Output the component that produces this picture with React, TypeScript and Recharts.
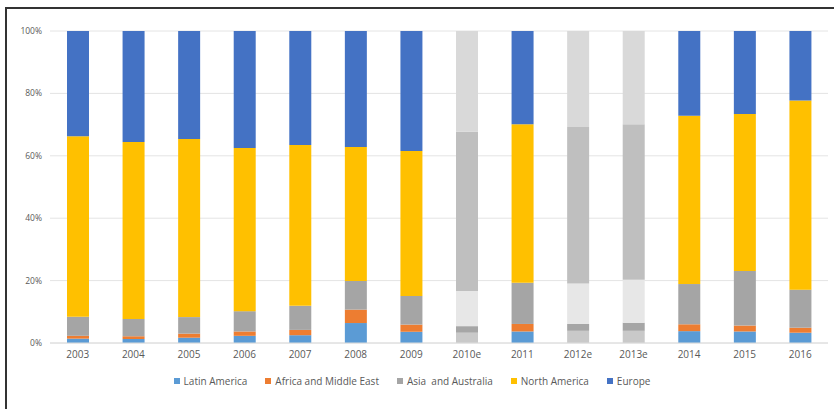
import { Bar, BarChart, CartesianGrid, Cell, Legend, XAxis, YAxis } from "recharts";

const years = ["2003", "2004", "2005", "2006", "2007", "2008", "2009", "2010e", "2011", "2012e", "2013e", "2014", "2015", "2016"];
const estimated = ["2010e", "2012e", "2013e"];

const latinAmerica = [1.4, 1.3, 1.7, 2.3, 2.5, 6.4, 3.6, 3.3, 3.7, 3.9, 3.9, 3.8, 3.7, 3.3];
const africaMiddleEast = [0.9, 0.9, 1.3, 1.4, 1.7, 4.3, 2.3, 2.1, 2.4, 2.2, 2.6, 2.2, 1.9, 1.6];
const asiaAustralia = [6.1, 5.5, 5.3, 6.5, 7.7, 9.2, 9.2, 11.3, 13.2, 13.0, 13.8, 12.9, 17.5, 12.2];
const northAmerica = [57.9, 56.7, 57.1, 52.3, 51.6, 42.9, 46.4, 51.0, 50.8, 50.1, 49.8, 53.9, 50.3, 60.6];
const europe = [33.7, 35.6, 34.6, 37.5, 36.5, 37.2, 38.5, 32.3, 29.9, 30.8, 29.9, 27.2, 26.6, 22.3];

const yTicks = [0, 0.2, 0.4, 0.6, 0.8, 1];

const series = [
  { key: "latinAmerica", name: "Latin America", color: "#5b9bd5", est: "#c9c9c9" },
  { key: "africaMiddleEast", name: "Africa and Middle East", color: "#ed7d31", est: "#a6a6a6" },
  { key: "asiaAustralia", name: "Asia  and Australia", color: "#a5a5a5", est: "#e7e7e7" },
  { key: "northAmerica", name: "North America", color: "#ffc000", est: "#bfbfbf" },
  { key: "europe", name: "Europe", color: "#4472c4", est: "#d9d9d9" },
];

const data = years.map((year, i) => ({
  year,
  latinAmerica: latinAmerica[i],
  africaMiddleEast: africaMiddleEast[i],
  asiaAustralia: asiaAustralia[i],
  northAmerica: northAmerica[i],
  europe: europe[i],
}));

const font = "'Open Sans', sans-serif";

document.body.style.margin = "0";

// keep legend in series order (recharts sorts by name otherwise)
function LegendItems({ payload }: any) {
  const items = [...(payload || [])].sort(
    (a: any, b: any) => series.findIndex((s) => s.name === a.value) - series.findIndex((s) => s.name === b.value)
  );
  return (
    <div style={{ display: "flex", justifyContent: "center", gap: 18, paddingRight: 10, fontFamily: font, fontSize: 10, color: "#595959" }}>
      {items.map((p: any) => (
        <span key={p.value} style={{ display: "flex", alignItems: "center", whiteSpace: "pre" }}>
          <span style={{ display: "inline-block", width: 6, height: 6, background: p.color, marginRight: 4 }} />
          {p.value}
        </span>
      ))}
    </div>
  );
}

export default function App() {
  return (
    <div style={{ position: "relative", width: 834, height: 409, overflow: "hidden", background: "#fff" }}>
      <div style={{ position: "absolute", left: 0, top: 0 }}>
        <BarChart width={834} height={409} data={data} stackOffset="expand" margin={{ top: 31, right: 6, left: 8, bottom: 20 }}>
          <CartesianGrid vertical={false} stroke="#e4e4e4" />
          <XAxis
            dataKey="year"
            height={20}
            tickLine={false}
            axisLine={{ stroke: "#dcdcdc" }}
            tick={{ fontSize: 10, fill: "#595959", fontFamily: font }}
          />
          <YAxis
            width={42}
            domain={[0, 1]}
            ticks={yTicks}
            tickFormatter={(v: number) => `${Math.round(v * 100)}%`}
            tickLine={false}
            axisLine={false}
            tick={{ fontSize: 8.5, fill: "#595959", fontFamily: font }}
          />
          <Legend
            verticalAlign="bottom"
            height={26}
            content={<LegendItems />}
            wrapperStyle={{ left: 0, width: 834, top: 374, bottom: "auto" }}
          />
          {series.map((s) => (
            <Bar key={s.key} dataKey={s.key} name={s.name} stackId="a" fill={s.color} barSize={22} isAnimationActive={false}>
              {data.map((d) => (
                <Cell key={d.year} fill={estimated.includes(d.year) ? s.est : s.color} />
              ))}
            </Bar>
          ))}
        </BarChart>
      </div>
      {/* frame: top and left edges only */}
      <div style={{ position: "absolute", left: 5, top: 7, width: 829, height: 2, background: "#333" }} />
      <div style={{ position: "absolute", left: 5, top: 7, width: 2, height: 402, background: "#333" }} />
    </div>
  );
}
